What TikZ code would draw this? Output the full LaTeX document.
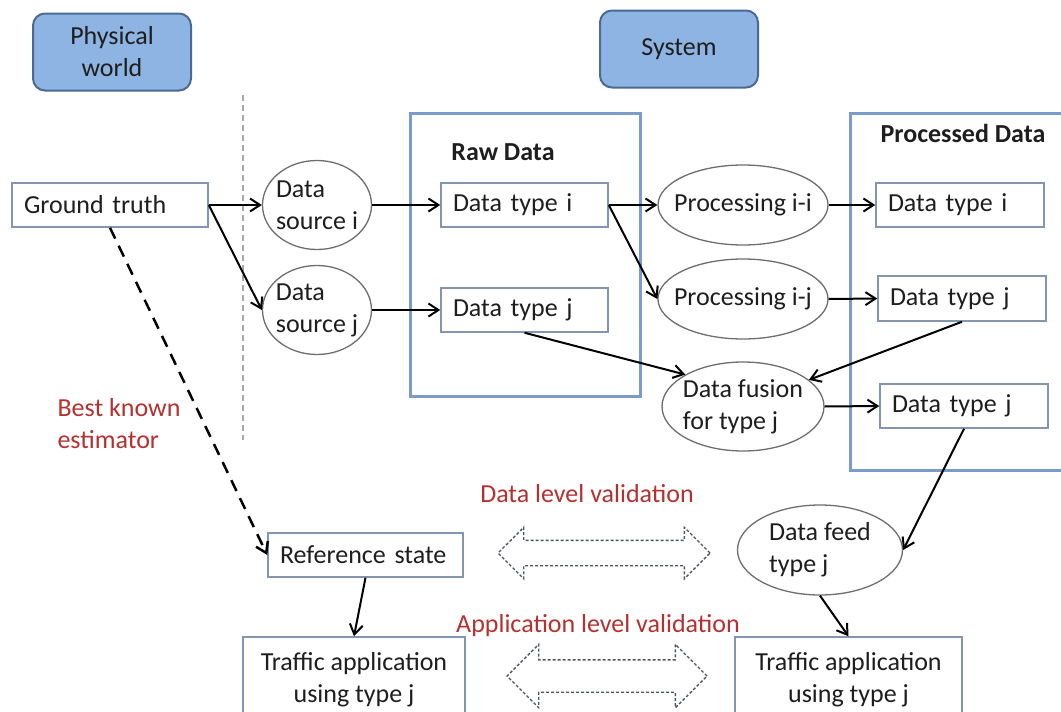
\documentclass[tikz,border=0pt]{standalone}
\usepackage{fontspec}
\setmainfont{Carlito}
\usepackage{tikz}
\usetikzlibrary{shapes.geometric,shapes.arrows,arrows.meta}
\definecolor{ink}{HTML}{1E1E1E}
\definecolor{hdrfill}{HTML}{8DB4E2}
\definecolor{hdrline}{HTML}{4A6A94}
\definecolor{boxline}{HTML}{8496AF}
\definecolor{frameblue}{HTML}{7B9BC8}
\definecolor{ovalline}{HTML}{6E6E6E}
\definecolor{dashgray}{HTML}{4F5560}
\definecolor{redtxt}{HTML}{B5302F}
\definecolor{guide}{HTML}{A8A8A0}
\tikzset{
  every node/.style={font=\fontsize{26}{32}\selectfont, text=ink},
  hdr/.style={draw=hdrline, fill=hdrfill, line width=2pt, rounded corners=12pt,
    minimum width=158pt, minimum height=77pt, align=center},
  box/.style={draw=boxline, fill=white, line width=1.5pt, text width=#1,
    inner xsep=12pt, inner ysep=0pt, minimum height=44pt, align=left},
  appbox/.style={draw=boxline, fill=white, line width=1.5pt, minimum width=#1,
    minimum height=86pt, align=center},
  oval/.style={ellipse, draw=ovalline, fill=white, line width=1.3pt, inner sep=-12pt, align=left},
  frame/.style={draw=frameblue, line width=3pt},
  title/.style={font=\fontsize{26}{32}\selectfont\bfseries},
  redlbl/.style={text=redtxt},
  conn/.style={draw=black, line width=2pt, -{Straight Barb[length=10pt,width=13pt]}},
  dashconn/.style={conn, line width=2.5pt, dash pattern=on 12pt off 8pt},
  guideline/.style={draw=guide, line width=2pt, dash pattern=on 6pt off 4pt},
  valarrow/.style={double arrow, draw=dashgray, line width=1.4pt, dash pattern=on 3pt off 2pt,
    inner xsep=0pt, double arrow head extend=#1, minimum height=0pt},
}

\begin{document}
\begin{tikzpicture}[x=1pt, y=-1pt]
  \useasboundingbox (0,0) rectangle (1061,712);

  % headers
  \node[hdr] (phys) at (112,52) {Physical\\world};
  \node[hdr] (sys) at (679,49) {System};
  \draw[guideline] (243,95) -- (243,440);

  % containers
  \draw[frame] (410,113) rectangle (640,396);
  \draw[frame] (850,113) rectangle (1075,470);
  \node[title] (rawt) at (503,152) {Raw Data};
  \node[title] (proct) at (963,133) {Processed Data};

  \node[box=172pt] (gt) at (110,205) {Ground truth};
  \node[oval, minimum width=109pt, minimum height=89pt] (srci) at (317,205) {Data\\source i};
  \node[oval, minimum width=109pt, minimum height=89pt] (srcj) at (317,310) {Data\\source j};
  \node[box=143pt] (dti) at (524.5,205) {Data type i};
  \node[box=143pt] (dtj) at (524.5,310) {Data type j};
  \node[oval, minimum width=170pt, minimum height=80pt] (prii) at (743,205) {Processing i-i};
  \node[oval, minimum width=170pt, minimum height=80pt] (prij) at (743,299) {Processing i-j};
  \node[oval, minimum width=162pt, minimum height=89pt] (fus) at (743,406.5) {Data fusion\\for type j};
  \node[box=144pt] (pdti) at (960,205) {Data type i};
  \node[box=144pt, minimum height=45pt] (pdtj) at (962,298.5) {Data type j};
  \node[box=144pt] (pdtj2) at (964,406) {Data type j};
  \node[oval, minimum width=165pt, minimum height=90pt] (feed) at (820,550) {Data feed\\type j};
  \node[box=171pt] (ref) at (365.5,555) {Reference state};
  \node[appbox=222pt] (appl) at (354,680) {Traffic application\\using type j};
  \node[appbox=227pt] (appr) at (848.5,680) {Traffic application\\using type j};

  % red labels
  \node[redlbl, align=left, anchor=west] (bke) at (54,424) {Best known\\estimator};
  \node[redlbl] (dlv) at (587,494) {Data level validation};
  \node[redlbl] (alv) at (598,626) {Application level validation};

  % validation arrows
  \node[valarrow=13pt, inner ysep=12pt, minimum height=212pt] (dlva) at (604,553) {};
  \node[valarrow=15.5pt, inner ysep=15.5pt, minimum height=200pt] (alva) at (607,676) {};

  \draw[conn] (gt.east) -- (srci.west);
  \draw[conn] (gt.east) -- (srcj.west);
  \draw[conn] (srci.east) -- (dti.west);
  \draw[conn] (srcj.east) -- (dtj.west);
  \draw[conn] (dti.east) -- (prii.west);
  \draw[conn] (dti.east) -- (prij.west);
  \draw[conn] (prii.east) -- (pdti.west);
  \draw[conn] (prij.east) -- (pdtj.west);
  \draw[conn] (dtj.south) -- (fus.north west);
  \draw[conn] (pdtj.south) -- (fus.22);
  \draw[conn] (fus.east) -- (pdtj2.west);
  \draw[conn] (pdtj2.south) -- (feed.east);
  \draw[conn] (feed.south) -- (appr.north);
  \draw[conn] (ref.south) -- (appl.north);
  \draw[dashconn] (gt.south) -- (ref.west);
\end{tikzpicture}
\end{document}
